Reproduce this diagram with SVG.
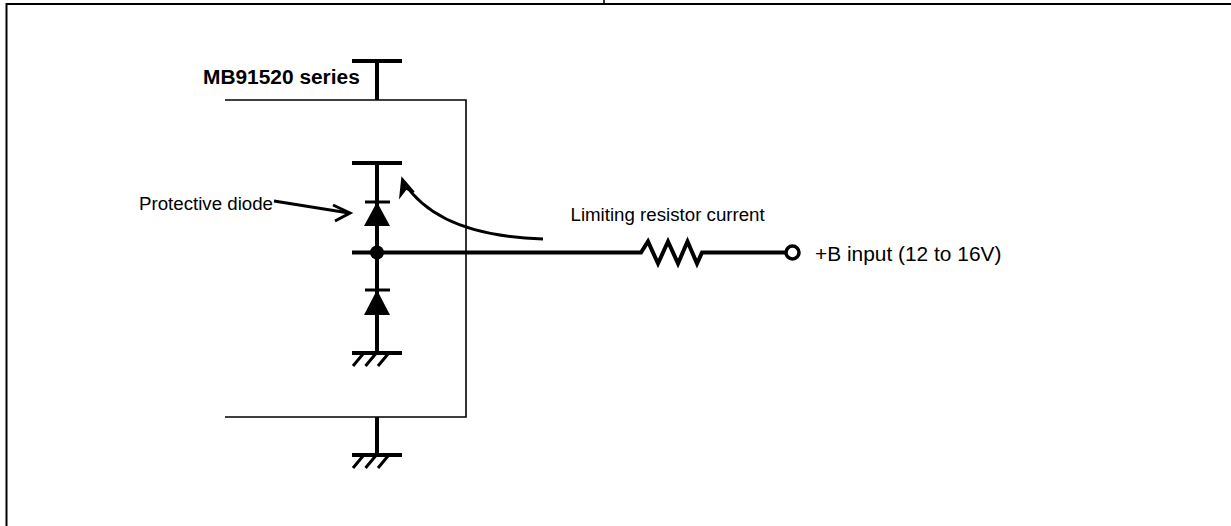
<svg xmlns="http://www.w3.org/2000/svg" width="1231" height="526" viewBox="0 0 1231 526">
<style>
.thin{stroke:#000;stroke-width:1.6;fill:none}
.w{stroke:#000;stroke-width:4;fill:none}
.m{stroke:#000;stroke-width:3;fill:none}
.t{font-family:"Liberation Sans",Arial,sans-serif;font-size:18.7px;fill:#000}
.b{font-family:"Liberation Sans",Arial,sans-serif;font-size:20.9px;font-weight:bold;fill:#000}
</style>
<defs>
<g id="gnd"><line x1="352" y1="0" x2="402" y2="0" class="w"/><path d="M353,13 L363,1 M365.5,13 L375.5,1 M378,13 L388,1" class="m"/></g>
</defs>
<rect width="1231" height="526" fill="#fff"/>
<g id="frame"><path d="M6.5,526 V4 H1231" stroke="#000" stroke-width="2" fill="none"/><line x1="604" y1="0" x2="604" y2="4" class="thin"/></g>
<g id="chip"><path d="M225,100 H466 V417 H225" class="thin"/><text x="203" y="84" class="b">MB91520 series</text></g>
<g id="vdd"><line x1="352" y1="61" x2="402" y2="61" class="w"/><line x1="377" y1="61" x2="377" y2="100" class="w"/></g>
<g id="vss"><line x1="377" y1="417" x2="377" y2="455" class="w"/><use href="#gnd" transform="translate(0,455)"/></g>
<g id="diode-column">
<line x1="352" y1="163" x2="402" y2="163" class="w"/>
<line x1="377" y1="163" x2="377" y2="353" class="w"/>
<line x1="365" y1="202" x2="390" y2="202" class="m" stroke-width="2"/>
<path d="M377,202 L390,226 L364,226 Z" fill="#000"/>
<line x1="365" y1="290" x2="390" y2="290" class="m" stroke-width="2"/>
<path d="M377,290 L390,315 L364,315 Z" fill="#000"/>
<circle cx="377" cy="252.5" r="7" fill="#000"/>
<use href="#gnd" transform="translate(0,353)"/>
</g>
<g id="connectors">
<line x1="352" y1="252.5" x2="632" y2="252.5" class="w"/>
<path d="M632,252.5 H641 L648,241.5 L658,263.5 L668,241.5 L678,263.5 L687.5,241.5 L697,263.5 L702,252.5 H786" class="w" stroke-linejoin="miter"/>
<path d="M543,239 Q440,236 405,184" class="m"/>
<path d="M402,178 L400,197 L406,189 L414,192 Z" fill="#000" stroke="#000" stroke-width="1.5" stroke-linejoin="miter"/>
<path d="M274,201 L349,213" class="m"/>
<path d="M333,205 L350,213 L335,221" class="m"/>
</g>
<g id="input"><circle cx="792.5" cy="252.5" r="6.5" fill="#fff" stroke="#000" stroke-width="3.5"/><text x="815" y="261" class="t" style="font-size:20.9px">+B input (12 to 16V)</text></g>
<g id="labels"><text x="139" y="210" class="t">Protective diode</text><text x="570.5" y="221" class="t">Limiting resistor current</text></g>
</svg>
